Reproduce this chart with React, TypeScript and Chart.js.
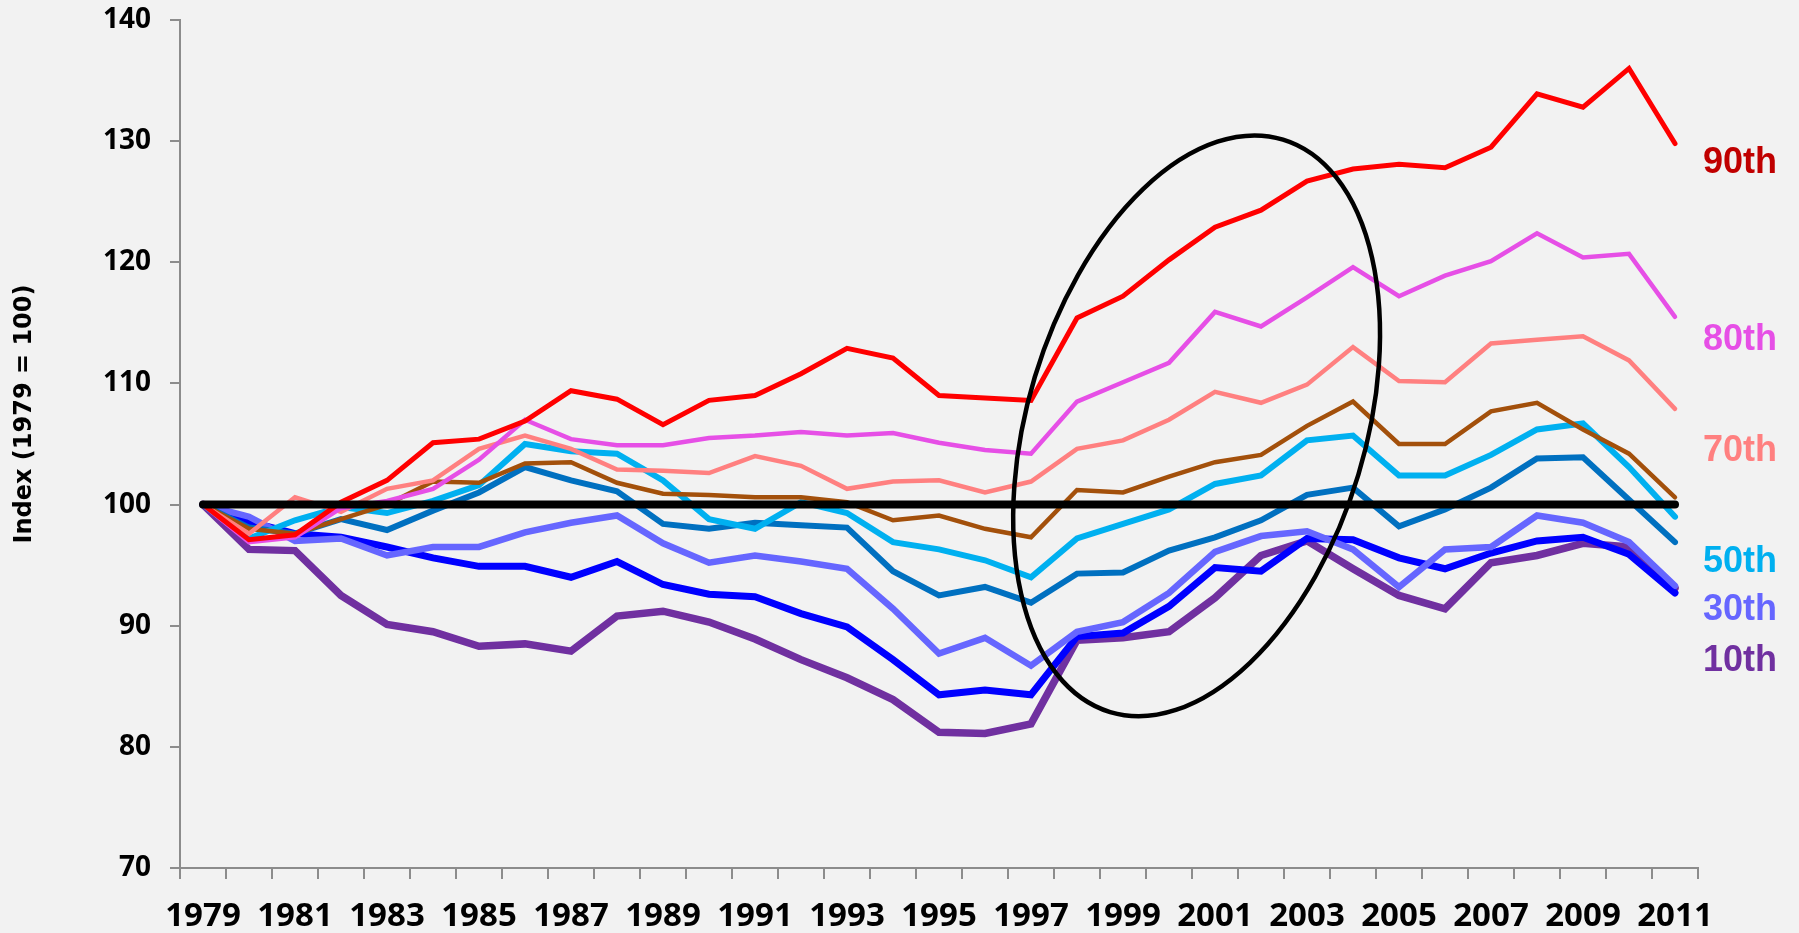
import React, { useEffect, useRef } from 'react';
import { Chart, registerables } from 'chart.js';

Chart.register(...registerables);

const years = [
  '1979', '1980', '1981', '1982', '1983', '1984', '1985', '1986', '1987', '1988', '1989',
  '1990', '1991', '1992', '1993', '1994', '1995', '1996', '1997', '1998', '1999', '2000',
  '2001', '2002', '2003', '2004', '2005', '2006', '2007', '2008', '2009', '2010', '2011',
];

const baseLine = [
  100, 100, 100, 100, 100, 100, 100, 100, 100, 100, 100, 100, 100, 100, 100, 100, 100,
  100, 100, 100, 100, 100, 100, 100, 100, 100, 100, 100, 100, 100, 100, 100, 100,
];

const p90 = [100, 97.1, 97.5, 100.2, 102.0, 105.1, 105.4, 106.9, 109.4, 108.7, 106.6, 108.6, 109.0, 110.8, 112.9, 112.1, 109.0, 108.8, 108.6, 115.4, 117.2, 120.2, 122.9, 124.3, 126.7, 127.7, 128.1, 127.8, 129.5, 133.9, 132.8, 136.0, 129.8];
const p80 = [100, 96.9, 97.3, 99.7, 100.3, 101.3, 103.7, 107.0, 105.4, 104.9, 104.9, 105.5, 105.7, 106.0, 105.7, 105.9, 105.1, 104.5, 104.2, 108.5, 110.1, 111.7, 115.9, 114.7, 117.1, 119.6, 117.2, 118.9, 120.1, 122.4, 120.4, 120.7, 115.5];
const p70 = [100, 97.6, 100.6, 99.4, 101.3, 102.0, 104.6, 105.7, 104.6, 102.9, 102.8, 102.6, 104.0, 103.2, 101.3, 101.9, 102.0, 101.0, 101.9, 104.6, 105.3, 107.0, 109.3, 108.4, 109.9, 113.0, 110.2, 110.1, 113.3, 113.6, 113.9, 111.9, 107.9];
const p60 = [100, 98.0, 97.6, 98.8, 100.0, 101.9, 101.8, 103.4, 103.5, 101.8, 100.9, 100.8, 100.6, 100.6, 100.2, 98.7, 99.1, 98.0, 97.3, 101.2, 101.0, 102.3, 103.5, 104.1, 106.5, 108.5, 105.0, 105.0, 107.7, 108.4, 106.2, 104.2, 100.6];
const p50 = [100, 97.2, 98.7, 99.8, 99.3, 100.3, 101.6, 105.0, 104.4, 104.2, 102.0, 98.8, 98.0, 100.2, 99.3, 96.9, 96.3, 95.4, 94.0, 97.2, 98.4, 99.6, 101.7, 102.4, 105.3, 105.7, 102.4, 102.4, 104.1, 106.2, 106.7, 103.1, 99.0];
const p40 = [100, 98.1, 97.6, 98.8, 97.9, 99.5, 101.0, 103.1, 102.0, 101.1, 98.4, 98.0, 98.5, 98.3, 98.1, 94.5, 92.5, 93.2, 91.9, 94.3, 94.4, 96.2, 97.3, 98.7, 100.8, 101.4, 98.2, 99.6, 101.4, 103.8, 103.9, 100.4, 96.9];
const p30 = [100, 99.0, 97.0, 97.2, 95.8, 96.5, 96.5, 97.7, 98.5, 99.1, 96.8, 95.2, 95.8, 95.3, 94.7, 91.4, 87.7, 89.0, 86.7, 89.5, 90.3, 92.7, 96.1, 97.4, 97.8, 96.3, 93.2, 96.3, 96.5, 99.1, 98.5, 96.9, 93.3];
const p20 = [100, 98.6, 97.6, 97.3, 96.5, 95.6, 94.9, 94.9, 94.0, 95.3, 93.4, 92.6, 92.4, 91.0, 89.9, 87.2, 84.3, 84.7, 84.3, 89.1, 89.4, 91.6, 94.8, 94.5, 97.2, 97.1, 95.6, 94.7, 96.0, 97.0, 97.3, 95.9, 92.7];
const p10 = [100, 96.3, 96.2, 92.5, 90.1, 89.5, 88.3, 88.5, 87.9, 90.8, 91.2, 90.3, 88.9, 87.2, 85.7, 83.9, 81.2, 81.1, 81.9, 88.8, 89.0, 89.5, 92.3, 95.8, 97.0, 94.7, 92.5, 91.4, 95.2, 95.8, 96.8, 96.5, 93.1];

const yTicks = [70, 80, 90, 100, 110, 120, 130, 140];

const endLabels = ['90th', '80th', '70th', '50th', '30th', '10th'];
const endLabelValues = [128.2, 113.6, 104.45, 95.25, 91.25, 87.05];
const endLabelColors = ['#C00000', '#E64FE6', '#FF8080', '#00B0F0', '#6666FF', '#7030A0'];

const yTitle = 'Index (1979 = 100)';

// highlight ellipse: centre given as (category position, index value)
const ellipseCenterPos = 21.6;
const ellipseCenterValue = 106.5;

const AXIS_GRAY = '#8C8C8C';
const FONT_FAMILY = '"Noto Sans", "Open Sans", sans-serif';

const overlayPlugin = {
  id: 'overlay',
  afterDatasetsDraw(chart: any) {
    const { ctx, chartArea, scales } = chart;
    const xs = scales.x;
    const ys = scales.y;
    // ellipse
    const i0 = Math.floor(ellipseCenterPos);
    const xa = xs.getPixelForValue(i0);
    const xb = xs.getPixelForValue(i0 + 1);
    const cx = xa + (ellipseCenterPos - i0) * (xb - xa);
    const cy = ys.getPixelForValue(ellipseCenterValue);
    ctx.save();
    ctx.beginPath();
    ctx.ellipse(cx, cy, 169, 299, (16.8 * Math.PI) / 180, 0, Math.PI * 2);
    ctx.lineWidth = 4.5;
    ctx.strokeStyle = '#000000';
    ctx.stroke();
    ctx.restore();

    // end labels
    ctx.save();
    ctx.font = 'bold 36px "Liberation Sans", Arial, sans-serif';
    ctx.textAlign = 'left';
    ctx.textBaseline = 'middle';
    endLabels.forEach((t, i) => {
      ctx.fillStyle = endLabelColors[i];
      ctx.fillText(t, chartArea.right + 5, ys.getPixelForValue(endLabelValues[i]));
    });
    ctx.restore();

    // y title
    ctx.save();
    ctx.translate(25, chartArea.top + 394);
    ctx.rotate(-Math.PI / 2);
    ctx.font = 'bold 24px "DejaVu Sans", sans-serif';
    ctx.fillStyle = '#000000';
    ctx.textAlign = 'center';
    ctx.textBaseline = 'middle';
    ctx.fillText(yTitle, 0, 0);
    ctx.restore();
  },
};

const series = [
  { data: p90, color: '#FF0000', width: 5 },
  { data: p80, color: '#E64FE6', width: 4.5 },
  { data: p70, color: '#FF8080', width: 4.5 },
  { data: p60, color: '#A3500B', width: 4.5 },
  { data: p50, color: '#00B0F0', width: 6 },
  { data: p40, color: '#0070C0', width: 6 },
  { data: p30, color: '#6666FF', width: 6.5 },
  { data: p20, color: '#0000FF', width: 7 },
  { data: p10, color: '#7030A0', width: 7.5 },
];
const seriesNames = ['90th', '80th', '70th', '60th', '50th', '40th', '30th', '20th', '10th'];

export default function App() {
  const ref = useRef<HTMLCanvasElement>(null);
  useEffect(() => {
    const canvas = ref.current;
    if (!canvas) return;
    const datasets: any[] = [
      {
        label: '1979 level',
        data: baseLine,
        borderColor: '#000000',
        borderWidth: 8,
        borderCapStyle: 'round',
        pointRadius: 0,
        tension: 0,
      },
      ...series.map((s, i) => ({
        label: seriesNames[i],
        data: s.data,
        borderColor: s.color,
        backgroundColor: s.color,
        borderWidth: s.width,
        borderCapStyle: 'round',
        borderJoinStyle: 'miter',
        pointRadius: 0,
        tension: 0,
      })),
    ];
    const chart = new Chart(canvas, {
      type: 'line',
      data: { labels: years, datasets },
      options: {
        animation: false,
        responsive: false,
        devicePixelRatio: 1,
        layout: { padding: { left: 0, right: 101, top: 0, bottom: 0 } },
        plugins: { legend: { display: false }, tooltip: { enabled: false }, title: { display: false } },
        scales: {
          x: {
            type: 'category',
            offset: true,
            grid: {
              display: true,
              offset: true,
              drawOnChartArea: false,
              drawTicks: true,
              tickLength: 11,
              color: AXIS_GRAY,
              lineWidth: 2,
            },
            border: { display: true, color: AXIS_GRAY, width: 2 },
            ticks: {
              autoSkip: false,
              maxRotation: 0,
              minRotation: 0,
              padding: 18,
              color: '#000000',
              font: { family: FONT_FAMILY, size: 33, weight: 'bold' },
              callback: (_v: any, idx: number) => (idx % 2 === 0 ? years[idx] : ''),
            },
            afterFit: (scale: any) => {
              scale.height = 65;
            },
          },
          y: {
            type: 'linear',
            min: yTicks[0],
            max: yTicks[yTicks.length - 1],
            afterBuildTicks: (scale: any) => {
              scale.ticks = yTicks.map((v) => ({ value: v }));
            },
            grid: {
              display: true,
              drawOnChartArea: false,
              drawTicks: true,
              tickLength: 10,
              color: AXIS_GRAY,
              lineWidth: 2,
            },
            border: { display: true, color: AXIS_GRAY, width: 2 },
            ticks: {
              padding: 19,
              color: '#000000',
              font: { family: FONT_FAMILY, size: 28, weight: 'bold' },
            },
            afterFit: (scale: any) => {
              scale.width = 180;
              scale.paddingTop = 20;
              scale.paddingBottom = 0;
            },
          },
        },
      },
      plugins: [overlayPlugin],
    } as any);
    return () => chart.destroy();
  }, []);
  return (
    <div style={{ position: 'fixed', left: 0, top: 0, width: 1799, height: 933, background: '#F2F2F2' }}>
      <canvas ref={ref} width={1799} height={933} style={{ display: 'block', width: 1799, height: 933 }} />
    </div>
  );
}
